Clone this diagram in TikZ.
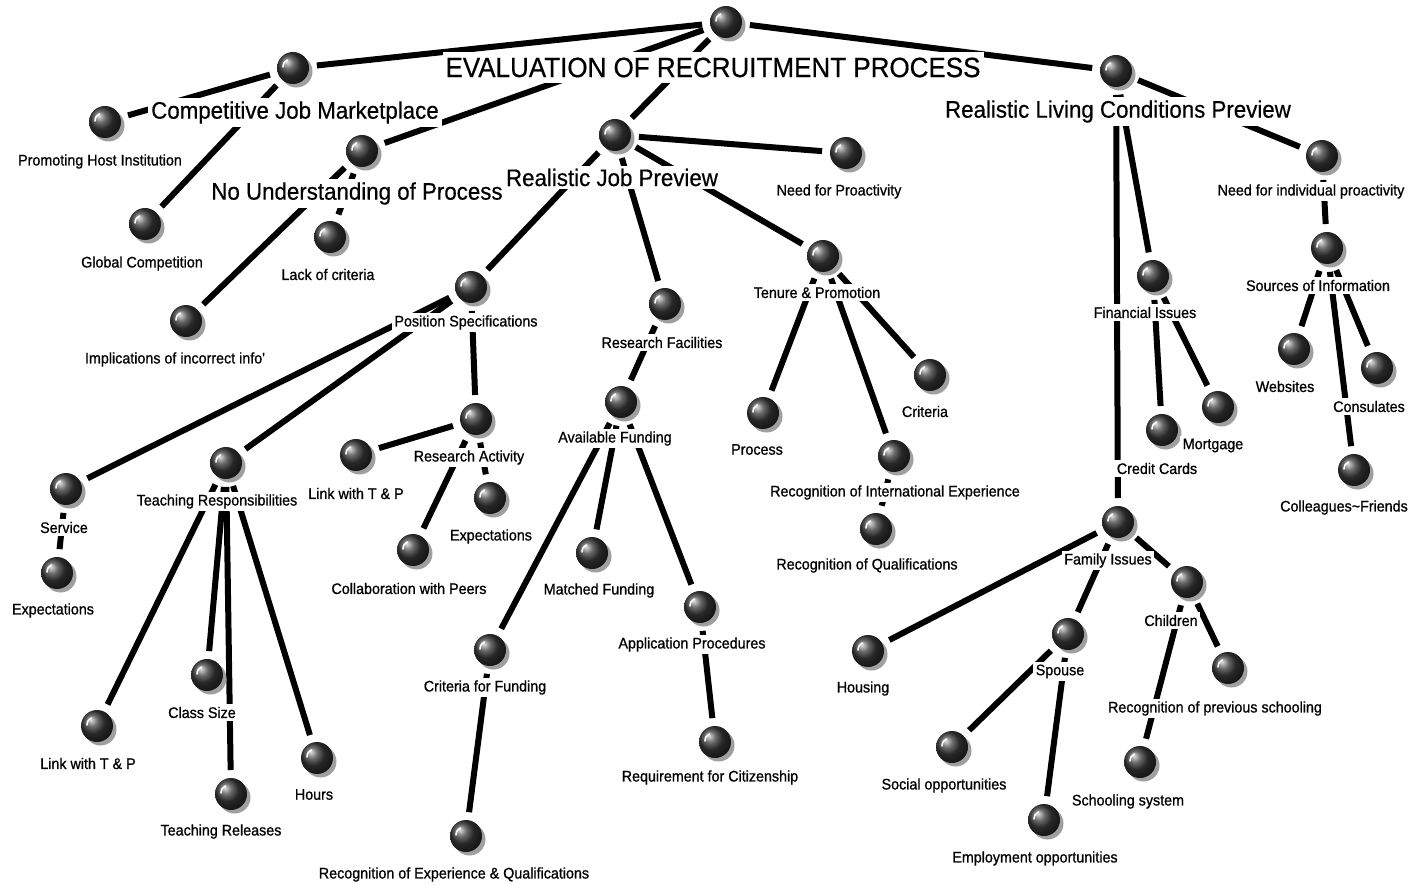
\documentclass[tikz,border=0pt]{standalone}
\usepackage{fontspec}
\usepackage{graphicx}
\setmainfont{Liberation Sans}
\newfontfamily\smallfam{Liberation Sans}[RawFeature={embolden=0.9}]
\newfontfamily\bigfam{Liberation Sans}[RawFeature={embolden=0.5}]
\newcommand{\tx}[1]{\scalebox{1}[1.07]{#1}}
\usetikzlibrary{shadows,backgrounds}
\tikzset{
  ball/.style={circle, minimum size=32pt, inner sep=0pt, outer sep=8pt, shading=ball, ball color=black!78,
    drop shadow={shadow xshift=3.5pt, shadow yshift=-3.5pt, fill=gray!75, opacity=1},
    path picture={\draw[white, line width=1.6pt, line cap=round]
      ([shift={(-10pt,1pt)}]path picture bounding box.center) .. controls ([shift={(-9.5pt,5pt)}]path picture bounding box.center) .. ([shift={(-5.5pt,8pt)}]path picture bounding box.center);}},
  lbl/.style={fill=white, inner sep=2.5pt, yshift=-1.5pt, font=\smallfam\fontsize{14.3}{16}\selectfont},
  big/.style={lbl, inner sep=3pt, font=\bigfam\fontsize{22.3}{24}\selectfont},
  ttl/.style={lbl, inner xsep=3pt, inner ysep=6pt, font=\bigfam\fontsize{26}{28}\selectfont},
  link/.style={line width=6pt, black}
}
\begin{document}
\begin{tikzpicture}[x=1pt,y=-1pt]
\begin{scope}[on background layer]
\fill[white] (0,0) rectangle (1417,885);
\end{scope}
\useasboundingbox (0,0) rectangle (1417,885);

% balls
\node[ball] (root) at (726,22) {};
\node[ball] (cjm) at (293,68) {};
\node[ball] (phost) at (105,122) {};
\node[ball] (glob) at (145,224) {};
\node[ball] (nup) at (362,151) {};
\node[ball] (impl) at (186,321) {};
\node[ball] (lack) at (330,237) {};
\node[ball] (rjp) at (615,135) {};
\node[ball] (nfp) at (846,153) {};
\node[ball] (ps) at (471,287) {};
\node[ball] (rf) at (665,304) {};
\node[ball] (tp) at (823,256) {};
\node[ball] (serv) at (66,489) {};
\node[ball] (expa) at (57,573) {};
\node[ball] (tr) at (226,463) {};
\node[ball] (lta) at (97,726) {};
\node[ball] (cs) at (207,675) {};
\node[ball] (trel) at (231,794) {};
\node[ball] (hours) at (317,758) {};
\node[ball] (ra) at (476,419) {};
\node[ball] (ltb) at (356,455) {};
\node[ball] (coll) at (413,550) {};
\node[ball] (expb) at (490,498) {};
\node[ball] (af) at (621,402) {};
\node[ball] (cff) at (490,650) {};
\node[ball] (mf) at (592,553) {};
\node[ball] (ap) at (700,607) {};
\node[ball] (req) at (715,742) {};
\node[ball] (reqq) at (466,836) {};
\node[ball] (proc) at (763,413) {};
\node[ball] (crit) at (930,375) {};
\node[ball] (rie) at (894,456) {};
\node[ball] (rq) at (876,529) {};
\node[ball] (rlcp) at (1116,71) {};
\node[ball] (nip) at (1322,156) {};
\node[ball] (fin) at (1153,276) {};
\node[ball] (cc) at (1162,430) {};
\node[ball] (mort) at (1218,407) {};
\node[ball] (soi) at (1327,248) {};
\node[ball] (web) at (1294,349) {};
\node[ball] (cons) at (1377,368) {};
\node[ball] (colf) at (1354,470) {};
\node[ball] (fam) at (1118,522) {};
\node[ball] (hous) at (868,651) {};
\node[ball] (spouse) at (1068,634) {};
\node[ball] (child) at (1187,582) {};
\node[ball] (rps) at (1228,668) {};
\node[ball] (ss) at (1140,762) {};
\node[ball] (socop) at (952,747) {};
\node[ball] (empop) at (1044,820) {};

% labels
\node[ttl] (root-l) at (713,66) {\tx{EVALUATION OF RECRUITMENT PROCESS}};
\node[big] (cjm-l) at (295,111) {\tx{Competitive Job Marketplace}};
\node[lbl] (phost-l) at (100,160) {\tx{Promoting Host Institution}};
\node[lbl] (glob-l) at (142,262) {\tx{Global Competition}};
\node[big] (nup-l) at (357,192) {\tx{No Understanding of Process}};
\node[lbl] (impl-l) at (175,358) {\tx{Implications of incorrect info'}};
\node[lbl] (lack-l) at (328,273) {\tx{Lack of criteria}};
\node[big] (rjp-l) at (612,176) {\tx{Realistic Job Preview}};
\node[lbl] (nfp-l) at (839,190) {\tx{Need for Proactivity}};
\node[lbl] (ps-l) at (466,321) {\tx{Position Specifications}};
\node[lbl] (rf-l) at (662,341) {\tx{Research Facilities}};
\node[lbl] (tp-l) at (817,291) {\tx{Tenure \& Promotion}};
\node[lbl] (serv-l) at (64,526) {\tx{Service}};
\node[lbl] (expa-l) at (53,609) {\tx{Expectations}};
\node[lbl] (tr-l) at (217,500) {\tx{Teaching Responsibilities}};
\node[lbl] (lta-l) at (88,762) {\tx{Link with T \& P}};
\node[lbl] (cs-l) at (202,711) {\tx{Class Size}};
\node[lbl] (trel-l) at (221,830) {\tx{Teaching Releases}};
\node[lbl] (hours-l) at (314,793) {\tx{Hours}};
\node[lbl] (ra-l) at (469,456) {\tx{Research Activity}};
\node[lbl] (ltb-l) at (356,492) {\tx{Link with T \& P}};
\node[lbl] (coll-l) at (409,587) {\tx{Collaboration with Peers}};
\node[lbl] (expb-l) at (491,535) {\tx{Expectations}};
\node[lbl] (af-l) at (615,437) {\tx{Available Funding}};
\node[lbl] (cff-l) at (485,686) {\tx{Criteria for Funding}};
\node[lbl] (mf-l) at (599,589) {\tx{Matched Funding}};
\node[lbl] (ap-l) at (692,643) {\tx{Application Procedures}};
\node[lbl] (req-l) at (710,776) {\tx{Requirement for Citizenship}};
\node[lbl] (reqq-l) at (454,873) {\tx{Recognition of Experience \& Qualifications}};
\node[lbl] (proc-l) at (757,448) {\tx{Process}};
\node[lbl] (crit-l) at (925,410) {\tx{Criteria}};
\node[lbl] (rie-l) at (895,491) {\tx{Recognition of International Experience}};
\node[lbl] (rq-l) at (867,564) {\tx{Recognition of Qualifications}};
\node[big] (rlcp-l) at (1118,110) {\tx{Realistic Living Conditions Preview}};
\node[lbl] (nip-l) at (1311,190) {\tx{Need for individual proactivity}};
\node[lbl] (fin-l) at (1145,311) {\tx{Financial Issues}};
\node[lbl] (cc-l) at (1157,467) {\tx{Credit Cards}};
\node[lbl] (mort-l) at (1213,444) {\tx{Mortgage}};
\node[lbl] (soi-l) at (1318,284) {\tx{Sources of Information}};
\node[lbl] (web-l) at (1285,385) {\tx{Websites}};
\node[lbl] (cons-l) at (1369,405) {\tx{Consulates}};
\node[lbl] (colf-l) at (1344,506) {\tx{Colleagues\textasciitilde Friends}};
\node[lbl] (fam-l) at (1108,559) {\tx{Family Issues}};
\node[lbl] (hous-l) at (863,687) {\tx{Housing}};
\node[lbl] (spouse-l) at (1060,670) {\tx{Spouse}};
\node[lbl] (child-l) at (1171,619) {\tx{Children}};
\node[lbl] (rps-l) at (1215,707) {\tx{Recognition of previous schooling}};
\node[lbl] (ss-l) at (1128,800) {\tx{Schooling system}};
\node[lbl] (socop-l) at (944,784) {\tx{Social opportunities}};
\node[lbl] (empop-l) at (1035,857) {\tx{Employment opportunities}};

% connectors
\begin{scope}[on background layer]
\draw[link] (root) -- (cjm);
\draw[link] (root) -- (nup);
\draw[link] (root) -- (rjp);
\draw[link] (root) -- (rlcp);
\draw[link] (cjm) -- (phost);
\draw[link] (cjm) -- (glob);
\draw[link] (nup) -- (impl);
\draw[link] (nup) -- (lack);
\draw[link] (rjp) -- (nfp);
\draw[link] (rjp) -- (ps);
\draw[link] (rjp) -- (rf);
\draw[link] (rjp) -- (tp);
\draw[link] (ps) -- (serv);
\draw[link] (ps) -- (tr);
\draw[link] (ps) -- (ra);
\draw[link] (serv) -- (expa);
\draw[link] (tr) -- (lta);
\draw[link] (tr) -- (cs);
\draw[link] (tr) -- (trel);
\draw[link] (tr) -- (hours);
\draw[link] (ra) -- (ltb);
\draw[link] (ra) -- (coll);
\draw[link] (ra) -- (expb);
\draw[link] (rf) -- (af);
\draw[link] (af) -- (cff);
\draw[link] (af) -- (mf);
\draw[link] (af) -- (ap);
\draw[link] (cff) -- (reqq);
\draw[link] (ap) -- (req);
\draw[link] (tp) -- (proc);
\draw[link] (tp) -- (crit);
\draw[link] (tp) -- (rie);
\draw[link] (rie) -- (rq);
\draw[link] (rlcp) -- (nip);
\draw[link] (rlcp) -- (fin);
\draw[link] (rlcp) -- (fam);
\draw[link] (fin) -- (cc);
\draw[link] (fin) -- (mort);
\draw[link] (nip) -- (soi);
\draw[link] (soi) -- (web);
\draw[link] (soi) -- (cons);
\draw[link] (soi) -- (colf);
\draw[link] (fam) -- (hous);
\draw[link] (fam) -- (spouse);
\draw[link] (fam) -- (child);
\draw[link] (spouse) -- (socop);
\draw[link] (spouse) -- (empop);
\draw[link] (child) -- (rps);
\draw[link] (child) -- (ss);
\end{scope}
\end{tikzpicture}
\end{document}
